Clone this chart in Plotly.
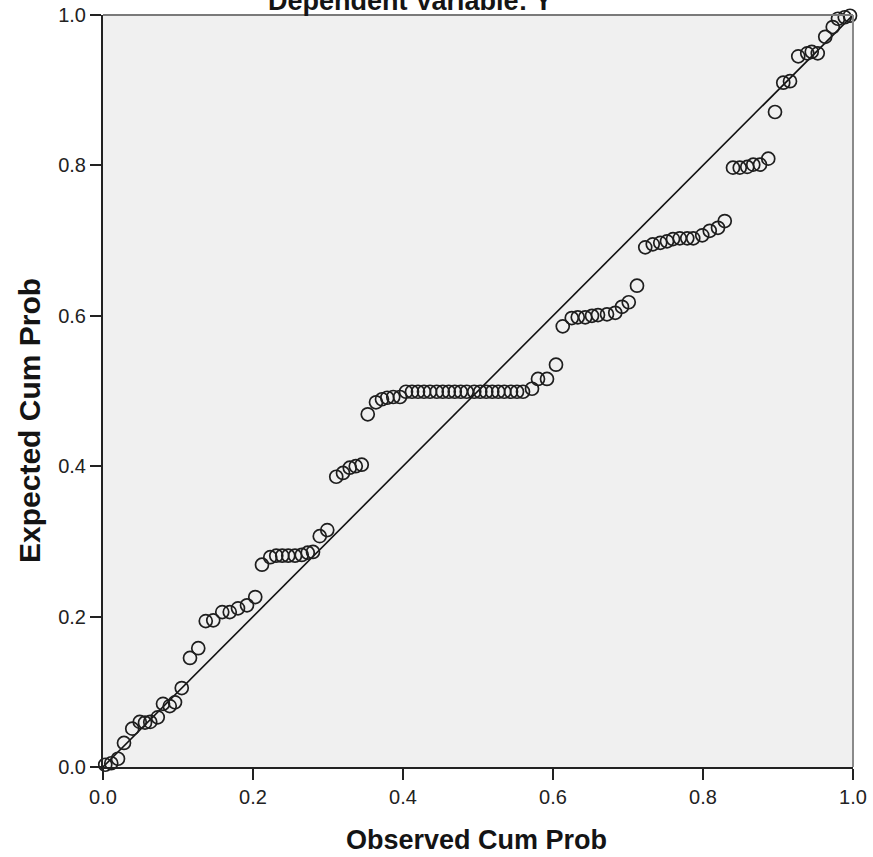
import plotly.graph_objects as go

# Observed cumulative probability (x) and expected cumulative probability (y)
observed_cum_prob = [
    0.003, 0.011, 0.020, 0.028, 0.039, 0.049, 0.056, 0.063, 0.073, 0.080,
    0.089, 0.096, 0.105, 0.116, 0.127, 0.137, 0.147, 0.159, 0.169, 0.180,
    0.192, 0.203, 0.212, 0.223, 0.231, 0.239, 0.247, 0.256, 0.265, 0.273,
    0.280, 0.289, 0.299, 0.311, 0.320, 0.329, 0.337, 0.345, 0.353, 0.364,
    0.372, 0.379, 0.387, 0.396,
    0.404, 0.412, 0.420, 0.428, 0.436, 0.445, 0.453, 0.461, 0.469, 0.477,
    0.485, 0.495, 0.503, 0.511, 0.519, 0.527, 0.535, 0.544, 0.552, 0.560,
    0.572, 0.580, 0.592, 0.604, 0.613, 0.625, 0.633, 0.643, 0.652, 0.660,
    0.672, 0.683, 0.692, 0.701, 0.712, 0.723, 0.733, 0.743, 0.752, 0.760,
    0.769, 0.779, 0.787, 0.799, 0.809, 0.820, 0.829, 0.840, 0.849, 0.859,
    0.867, 0.876, 0.887, 0.896, 0.907, 0.916, 0.927, 0.939, 0.945, 0.953,
    0.963, 0.973, 0.980, 0.989, 0.996,
]
expected_cum_prob = [
    0.003, 0.005, 0.011, 0.032, 0.051, 0.060, 0.059, 0.060, 0.066, 0.084,
    0.081, 0.086, 0.105, 0.145, 0.158, 0.194, 0.195, 0.206, 0.206, 0.211,
    0.215, 0.226, 0.269, 0.279, 0.281, 0.281, 0.281, 0.281, 0.282, 0.285,
    0.286, 0.307, 0.315, 0.386, 0.391, 0.398, 0.400, 0.402, 0.469, 0.485,
    0.489, 0.491, 0.492, 0.492,
    0.499, 0.499, 0.499, 0.499, 0.499, 0.499, 0.499, 0.499, 0.499, 0.499,
    0.499, 0.499, 0.499, 0.499, 0.499, 0.499, 0.499, 0.499, 0.499, 0.499,
    0.503, 0.516, 0.516, 0.535, 0.586, 0.597, 0.598, 0.598, 0.600, 0.601,
    0.602, 0.604, 0.612, 0.618, 0.640, 0.691, 0.695, 0.697, 0.699, 0.702,
    0.703, 0.703, 0.703, 0.707, 0.713, 0.717, 0.726, 0.797, 0.797, 0.798,
    0.801, 0.801, 0.809, 0.871, 0.910, 0.912, 0.945, 0.949, 0.951, 0.949,
    0.971, 0.984, 0.995, 0.997, 0.999,
]
ref_line = [0.0, 1.0]
tick_values = [0.0, 0.2, 0.4, 0.6, 0.8, 1.0]
tick_labels = ["0.0", "0.2", "0.4", "0.6", "0.8", "1.0"]

title_text = "Dependent Variable: Y"
x_title = "Observed Cum Prob"
y_title = "Expected Cum Prob"

W, H = 873, 857
L, R, T, B = 103, 20, 15, 90
plot_w = W - L - R
plot_h = H - T - B

fig = go.Figure()
fig.add_trace(go.Scatter(
    x=ref_line, y=ref_line, mode="lines",
    line=dict(color="#111111", width=1.6),
    hoverinfo="skip", showlegend=False, cliponaxis=False,
))
fig.add_trace(go.Scatter(
    x=observed_cum_prob, y=expected_cum_prob, mode="markers",
    marker=dict(symbol="circle-open", size=13, color="#1e1e1e",
                line=dict(width=1.7, color="#1e1e1e")),
    showlegend=False, cliponaxis=False,
))

axis_font = dict(family="Liberation Sans, Arial, sans-serif", size=20, color="#222222")
for upd in (fig.update_xaxes, fig.update_yaxes):
    upd(
        range=[0, 1], tickvals=tick_values, ticktext=tick_labels,
        ticks="outside", ticklen=11, tickwidth=1.5, tickcolor="#222222",
        showline=True, linecolor="#222222", linewidth=2,
        showgrid=False, zeroline=False, tickfont=axis_font,
        automargin=False, fixedrange=True,
    )

# top and right frame (gray)
fig.add_shape(type="line", xref="paper", yref="paper", x0=0, x1=1, y0=1, y1=1,
              line=dict(color="#7a7a7a", width=2))
fig.add_shape(type="line", xref="paper", yref="paper", x0=1, x1=1, y0=0, y1=1,
              line=dict(color="#8a8a8a", width=2))

label_font = dict(family="Liberation Sans, Arial, sans-serif", color="#141414")
fig.add_annotation(
    text="<b>%s</b>" % title_text, xref="paper", yref="paper",
    x=(410 - L) / plot_w, y=1 + (T - 1) / plot_h,
    xanchor="center", yanchor="middle", showarrow=False,
    font=dict(size=27, **label_font),
)
fig.add_annotation(
    text="<b>%s</b>" % x_title, xref="paper", yref="paper",
    x=(476 - L) / plot_w, y=-(840 - (H - B)) / plot_h,
    xanchor="center", yanchor="middle", showarrow=False,
    font=dict(size=27, **label_font),
)
fig.add_annotation(
    text="<b>%s</b>" % y_title, xref="paper", yref="paper",
    x=-(L - 29) / plot_w, y=1 - (421 - T) / plot_h,
    xanchor="center", yanchor="middle", showarrow=False, textangle=-90,
    font=dict(size=30, **label_font),
)

fig.update_layout(
    width=W, height=H,
    margin=dict(l=L, r=R, t=T, b=B, autoexpand=False),
    paper_bgcolor="white", plot_bgcolor="#f0f0f0",
)

fig.write_html(
    "out.html",
    config={"displayModeBar": False, "responsive": False},
    post_script="document.body.style.margin='0';document.body.style.overflow='hidden';",
)
